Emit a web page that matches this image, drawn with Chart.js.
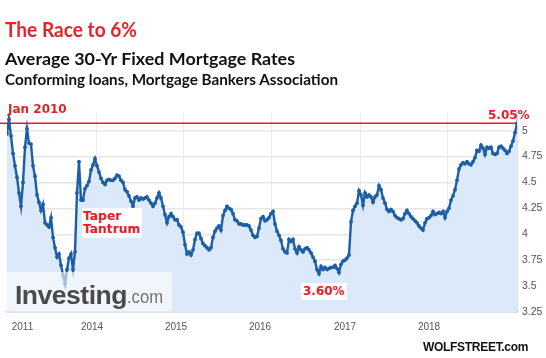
<!DOCTYPE html>
<html><head><meta charset="utf-8">
<script src="https://cdn.jsdelivr.net/npm/chart.js@4.4.1/dist/chart.umd.min.js"></script>
<style>
html,body{margin:0;padding:0;background:#fff;}
#wrap{position:relative;width:546px;height:358px;overflow:hidden;background:#fff;}
#c{position:absolute;left:0;top:0;}
.t{position:absolute;white-space:nowrap;line-height:1;transform-origin:0 0;}
</style></head><body>
<div id="wrap">
<canvas id="c" width="546" height="358"></canvas>
<div class="t fit" data-w="132" style="left:5px;top:16px;font:bold 21px Lato,sans-serif;color:#ea2127">The Race to 6%</div>
<div class="t fit" data-w="290" style="left:5px;top:48px;font:bold 17.5px Lato,sans-serif;color:#111">Average 30-Yr Fixed Mortgage Rates</div>
<div class="t fit" data-w="333" style="left:5px;top:70px;font:bold 15px Lato,sans-serif;color:#111">Conforming loans, Mortgage Bankers Association</div>
<div class="t" style="left:8px;top:102px;font:bold 12px 'DejaVu Sans';color:#e3202a">Jan 2010</div>
<div class="t" style="left:82px;top:208px;padding:2px 2px 2px 1px;background:#fff;font:bold 12.3px 'DejaVu Sans';color:#e3202a;line-height:13px">Taper<br>Tantrum</div>
<div class="t" style="left:301px;top:283px;padding:2px 2px;background:#fff;font:bold 12px 'DejaVu Sans';color:#e3202a;line-height:13px">3.60%</div>
<div class="t" style="left:488px;top:108px;font:bold 12px 'DejaVu Sans';color:#e3202a">5.05%</div>
<div class="t" style="left:7px;top:272px;width:165px;height:39px;background:rgba(255,255,255,0.6)"></div>
<div class="t fit" data-w="112" style="left:15px;top:280px;font:bold 26px 'Liberation Sans';letter-spacing:-0.5px;color:#4a4a4a">Investing</div>
<div class="t fit" data-w="36" style="left:127px;top:287px;font:normal 18px 'Liberation Sans';color:#707070">.com</div>
<div class="t" style="left:423px;top:340px;font:bold 12px 'Liberation Sans';color:#111;letter-spacing:-0.3px">WOLFSTREET.com</div>
</div>
<script>
// Weekly-ish MBA 30-yr fixed rate, read left to right from the picture
const rates = [
4.97,5.11,4.95,4.78,4.66,4.55,4.40,4.27,4.50,4.84,5.02,4.88,4.87,4.66,4.56,4.38,4.31,4.23,4.29,4.11,
4.09,4.07,4.16,3.97,3.87,3.78,3.81,3.70,3.61,3.52,3.66,3.77,3.81,3.66,3.83,4.40,4.70,4.33,4.33,4.44,
4.47,4.51,4.62,4.67,4.73,4.66,4.60,4.54,4.50,4.48,4.52,4.53,4.52,4.52,4.54,4.57,4.56,4.52,4.50,4.43,
4.41,4.37,4.32,4.27,4.35,4.36,4.33,4.35,4.34,4.35,4.36,4.33,4.30,4.27,4.30,4.35,4.40,4.35,4.27,4.19,
4.11,4.17,4.20,4.17,4.14,4.14,4.09,4.07,4.02,3.90,3.81,3.83,3.80,3.85,3.95,4.01,4.01,3.96,3.91,3.89,
3.87,3.85,3.87,3.97,4.03,4.06,4.08,4.04,4.18,4.23,4.27,4.25,4.24,4.20,4.14,4.13,4.10,4.10,4.09,4.09,
4.09,4.08,4.04,3.99,3.97,3.98,4.06,4.15,4.17,4.13,4.14,4.16,4.20,4.22,4.10,4.03,3.99,3.94,3.86,3.83,
3.82,3.95,3.93,3.95,3.86,3.82,3.88,3.85,3.83,3.86,3.87,3.85,3.82,3.78,3.74,3.66,3.62,3.69,3.66,3.68,
3.66,3.67,3.68,3.68,3.70,3.67,3.63,3.71,3.74,3.75,3.77,3.80,4.12,4.23,4.27,4.30,4.42,4.38,4.28,4.40,
4.36,4.38,4.36,4.31,4.36,4.38,4.47,4.43,4.35,4.30,4.24,4.22,4.24,4.22,4.18,4.16,4.15,4.14,4.15,4.20,
4.23,4.20,4.17,4.15,4.13,4.11,4.08,4.06,4.04,4.11,4.15,4.16,4.18,4.22,4.19,4.20,4.21,4.20,4.22,4.16,
4.22,4.25,4.33,4.37,4.43,4.52,4.63,4.67,4.69,4.68,4.70,4.68,4.67,4.70,4.74,4.81,4.80,4.86,4.83,4.77,
4.84,4.83,4.84,4.78,4.77,4.78,4.84,4.85,4.83,4.81,4.78,4.80,4.85,4.90,4.98,5.07
];
const yTickValues = [3.25,3.5,3.75,4,4.25,4.5,4.75,5];
const yearLabels = ['2011','2014','2015','2016','2017','2018'];
const yearLabelAt = [7.75,42.5,84.5,126.5,169,211];   // index positions of year labels
const yearGridAt = [44.5,88,132,176.5,220];            // index positions of vertical grid lines
const latestRate = 5.07;                                // red reference line (labelled 5.05%)

document.querySelectorAll('.fit').forEach(el => {
  const w = el.getBoundingClientRect().width;
  const target = parseFloat(el.dataset.w);
  if (w > 0) el.style.transform = 'scaleX(' + (target / w) + ')';
});

const nLab = yearLabels.length;
new Chart(document.getElementById('c'), {
  type: 'line',
  data: {
    datasets: [
      {
        data: rates.map((v, i) => ({x: i, y: v})),
        borderColor: '#1b5ea6',
        borderWidth: 2.4,
        pointRadius: 1.9,
        pointBackgroundColor: '#1b5ea6',
        pointBorderWidth: 0,
        fill: 'start',
        backgroundColor: '#dbe9fa',
        tension: 0,
        order: 0
      },
      {
        data: [{x: -3.5, y: latestRate}, {x: rates.length - 1, y: latestRate}],
        borderColor: '#dd2026',
        borderWidth: 1.5,
        pointRadius: 0,
        fill: false,
        clip: false,
        order: 1
      }
    ]
  },
  options: {
    responsive: false,
    animation: false,
    events: [],
    layout: {padding: {top: 113, left: 7, right: 0, bottom: 0}},
    plugins: {legend: {display: false}, tooltip: {enabled: false}},
    scales: {
      x: {
        type: 'linear',
        min: 0,
        max: rates.length - 1,
        afterBuildTicks: s => {
          s.ticks = yearLabelAt.map(v => ({value: v})).concat(yearGridAt.map(v => ({value: v})));
        },
        afterFit: s => { s.height = 46; },
        ticks: {
          autoSkip: false, maxRotation: 0, padding: 9, color: '#555',
          font: {size: 10, family: 'Liberation Sans'},
          callback: (v, i) => (i < nLab ? yearLabels[i] : '')
        },
        grid: {
          drawTicks: false,
          color: ctx => (ctx.index < nLab ? 'rgba(0,0,0,0)' : '#ececec'),
          lineWidth: 1
        },
        border: {color: '#c3d0dc', width: 1.5}
      },
      y: {
        position: 'right',
        min: 3.25,
        max: 5.17,
        afterBuildTicks: s => { s.ticks = yTickValues.map(v => ({value: v})); },
        afterFit: s => { s.width = 29; },
        ticks: {
          padding: 5, color: '#555',
          font: {size: 10.5, family: 'Liberation Sans'},
          callback: v => String(v)
        },
        grid: {drawTicks: false, color: '#e6e6e6', lineWidth: 1.5},
        border: {color: '#b3c2d1', width: 1.5}
      }
    }
  }
});
</script>
</body></html>
